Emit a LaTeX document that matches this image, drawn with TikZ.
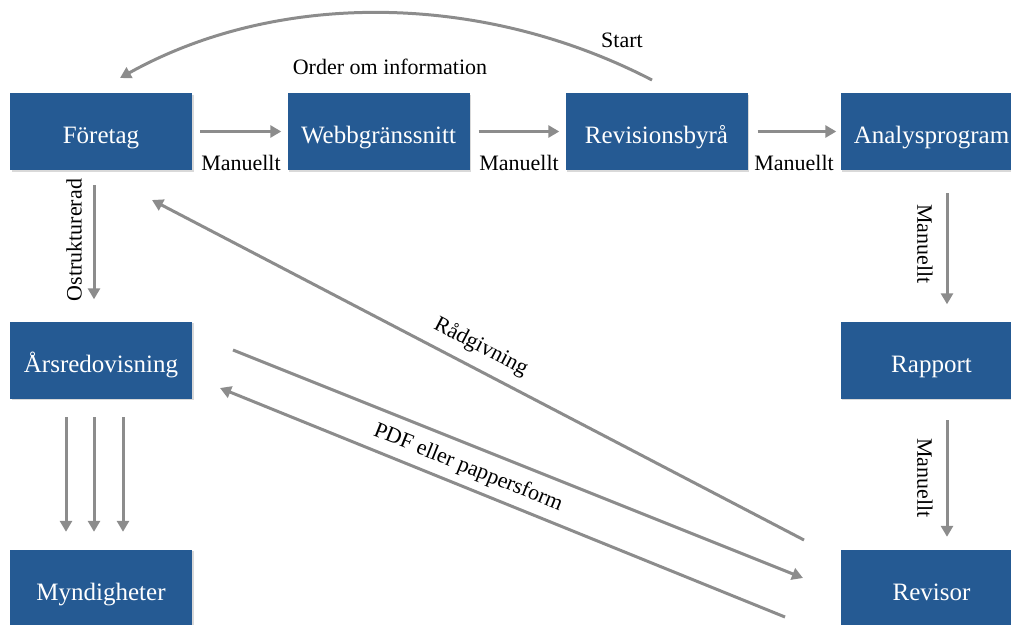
\documentclass[tikz,border=0pt]{standalone}
\usepackage{fontspec}
\setmainfont{Liberation Serif}
\usetikzlibrary{arrows.meta,shadows}
\definecolor{boxblue}{RGB}{37,90,147}
\definecolor{arrowgray}{RGB}{140,140,140}
\begin{document}
\begin{tikzpicture}[x=1pt,y=-1pt,
 box/.style={fill=boxblue, text=white, minimum width=182pt, minimum height=77pt, inner sep=0pt,
   text height=24pt, text depth=0pt,
   font=\fontsize{25}{29}\selectfont,
   drop shadow={shadow xshift=1.5pt,shadow yshift=-1.5pt,opacity=0.3}},
 flow/.style={draw=arrowgray, line width=3pt, -{Triangle[length=11pt,width=12pt]}},
 lbl/.style={font=\fontsize{22}{26}\selectfont, inner sep=0pt}]
\useasboundingbox (0,0) rectangle (1011,624);
\clip (0,0) rectangle (1011,624);
% boxes
\node[box] (f)   at (101,131.5)   {Företag};
\node[box] (w)   at (378.5,131.5) {Webbgränssnitt};
\node[box] (r)   at (656.5,131.5) {Revisionsbyrå};
\node[box] (a)   at (931.5,131.5) {Analysprogram};
\node[box] (ars) at (101,360)     {Årsredovisning};
\node[box] (m)   at (101,588)     {Myndigheter};
\node[box] (rap) at (931.5,360)   {Rapport};
\node[box] (rev) at (931.5,588)   {Revisor};
% horizontal flow
\draw[flow] ([xshift=8pt]f.east) -- ([xshift=-6pt]w.west);
\draw[flow] ([xshift=9pt]w.east) -- ([xshift=-6pt]r.west);
\draw[flow] ([xshift=10pt]r.east) -- ([xshift=-4pt]a.west);
\node[lbl] (m1) at (241,163) {Manuellt};
\node[lbl] (m2) at (519,163) {Manuellt};
\node[lbl] (m3) at (794,163) {Manuellt};
% vertical flows
\draw[flow] ([xshift=-7pt,yshift=-15pt]f.south) -- ([xshift=-7pt,yshift=22pt]ars.north);
\node[lbl,rotate=90] (ost) at (74,240) {Ostrukturerad};
\draw[flow] ([xshift=15.5pt,yshift=-23pt]a.south) -- ([xshift=15.5pt,yshift=17pt]rap.north);
\node[lbl,rotate=-90] (m4) at (925,244) {Manuellt};
\draw[flow] ([xshift=15.5pt,yshift=-21.5pt]rap.south) -- ([xshift=15.5pt,yshift=12.5pt]rev.north);
\node[lbl,rotate=-90] (m5) at (925,478) {Manuellt};
\foreach \dx in {-35,-7,22}
  \draw[flow] ([xshift=\dx pt,yshift=-18.5pt]ars.south) -- ([xshift=\dx pt,yshift=17.5pt]m.north);
% top arc
\coordinate (s1) at (652,80);
\coordinate (s2) at (120,78);
\draw[flow] (s1) .. controls (480,-9) and (276,-9) .. (s2);
\node[lbl] (start) at (622,40) {Start};
\node[lbl] (order) at (390,67) {Order om information};
% diagonals
\coordinate (rg1) at (804,540);
\coordinate (rg2) at (152,200);
\draw[flow] (rg1) -- (rg2);
\coordinate (pdf1) at (233,350);
\coordinate (pdf2) at (803,578);
\draw[flow] (pdf1) -- (pdf2);
\coordinate (ret1) at (785,617);
\coordinate (ret2) at (220,388);
\draw[flow] (ret1) -- (ret2);
\node[lbl,rotate=-27.5] (rad) at (481,347) {Rådgivning};
\node[lbl,rotate=-22] (pdf) at (468,468) {PDF eller pappersform};
\end{tikzpicture}
\end{document}
